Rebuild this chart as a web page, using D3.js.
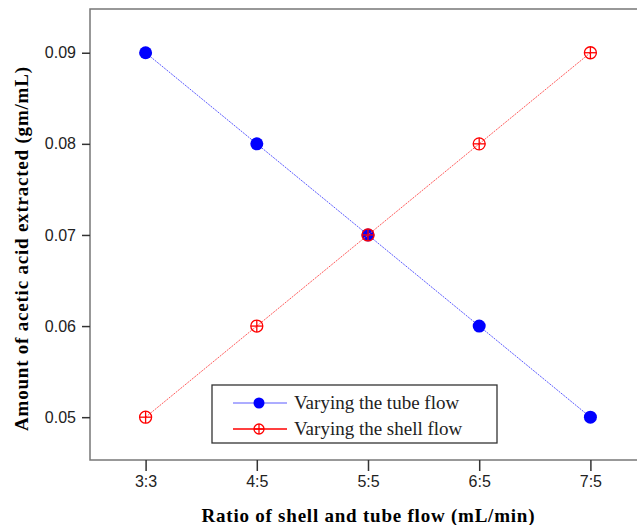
<!DOCTYPE html>
<html>
<head>
<meta charset="utf-8">
<script src="https://cdn.jsdelivr.net/npm/d3@7"></script>
<style>
  body { margin: 0; background: #fff; }
</style>
</head>
<body>
<svg id="chart" width="637" height="525"></svg>
<script>
const svg = d3.select('#chart');

// data
const ratios = ['3:3', '4:5', '5:5', '6:5', '7:5'];
const tubeFlow = [0.09, 0.08, 0.07, 0.06, 0.05];
const shellFlow = [0.05, 0.06, 0.07, 0.08, 0.09];
const yTicks = [0.05, 0.06, 0.07, 0.08, 0.09];

const margin = { top: 9, left: 90 };
const plotRight = 646;   // frame runs past the window edge
const plotBottom = 460;

const x = d3.scalePoint()
  .domain(ratios)
  .range([margin.left, plotRight])
  .padding(0.5);

const y = d3.scaleLinear()
  .domain([0.0453, 0.0948])
  .range([plotBottom, margin.top]);

// frame
svg.append('rect')
  .attr('x', margin.left)
  .attr('y', margin.top)
  .attr('width', plotRight - margin.left)
  .attr('height', plotBottom - margin.top)
  .attr('fill', 'none')
  .attr('stroke', '#777')
  .attr('stroke-width', 1.5);

// axes
const xAxis = svg.append('g')
  .attr('transform', `translate(0,${plotBottom})`)
  .call(d3.axisBottom(x).tickSize(11).tickPadding(5));
const yAxis = svg.append('g')
  .attr('transform', `translate(${margin.left},0)`)
  .call(d3.axisLeft(y).tickValues(yTicks).tickFormat(d3.format('.2f')).tickSize(8).tickPadding(6));

[xAxis, yAxis].forEach(a => {
  a.select('.domain').remove();
  a.selectAll('line').attr('stroke', '#333').attr('stroke-width', 1.5);
  a.selectAll('text')
    .attr('font-family', 'Liberation Sans, Arial, sans-serif')
    .attr('font-size', 16)
    .attr('fill', '#222');
});

// axis titles
svg.append('text')
  .attr('x', 368)
  .attr('y', 522)
  .attr('text-anchor', 'middle')
  .attr('font-family', 'Liberation Serif, Times New Roman, serif')
  .attr('font-weight', 'bold')
  .attr('font-size', 19)
  .attr('textLength', 333)
  .attr('lengthAdjust', 'spacing')
  .text('Ratio of shell and tube flow (mL/min)');

svg.append('text')
  .attr('transform', 'translate(28,249) rotate(-90)')
  .attr('text-anchor', 'middle')
  .attr('font-family', 'Liberation Serif, Times New Roman, serif')
  .attr('font-weight', 'bold')
  .attr('font-size', 19)
  .attr('textLength', 364)
  .attr('lengthAdjust', 'spacing')
  .text('Amount of acetic acid extracted (gm/mL)');

const line = d3.line()
  .x((d, i) => x(ratios[i]))
  .y(d => y(d));

// tube series (blue, filled)
svg.append('path')
  .datum(tubeFlow)
  .attr('d', line)
  .attr('fill', 'none')
  .attr('stroke', '#5a5aff')
  .attr('stroke-width', 1)
  .attr('stroke-dasharray', '2,1');

svg.append('g').selectAll('circle')
  .data(tubeFlow)
  .join('circle')
  .attr('cx', (d, i) => x(ratios[i]))
  .attr('cy', d => y(d))
  .attr('r', 6.5)
  .attr('fill', '#0000ff');

// shell series (red, open circle with cross)
svg.append('path')
  .datum(shellFlow)
  .attr('d', line)
  .attr('fill', 'none')
  .attr('stroke', '#ff5a5a')
  .attr('stroke-width', 1)
  .attr('stroke-dasharray', '2,1');

const crossMarker = (g, cx, cy, r) => {
  g.append('circle')
    .attr('cx', cx).attr('cy', cy).attr('r', r)
    .attr('fill', 'none').attr('stroke', '#ff0000').attr('stroke-width', 1.3);
  g.append('line')
    .attr('x1', cx - r).attr('x2', cx + r).attr('y1', cy).attr('y2', cy)
    .attr('stroke', '#ff0000').attr('stroke-width', 1.3);
  g.append('line')
    .attr('x1', cx).attr('x2', cx).attr('y1', cy - r).attr('y2', cy + r)
    .attr('stroke', '#ff0000').attr('stroke-width', 1.3);
};

const shellG = svg.append('g');
shellFlow.forEach((d, i) => crossMarker(shellG, x(ratios[i]), y(d), 6));

// legend
const legend = svg.append('g');
legend.append('rect')
  .attr('x', 212).attr('y', 385)
  .attr('width', 285).attr('height', 58)
  .attr('fill', '#fff')
  .attr('stroke', '#333')
  .attr('stroke-width', 1.3);

const legendRows = [
  { label: 'Varying the tube flow', color: '#5a5aff', y: 403, type: 'dot' },
  { label: 'Varying the shell flow', color: '#ff0000', y: 429, type: 'cross' }
];

legendRows.forEach(r => {
  legend.append('line')
    .attr('x1', 233).attr('x2', 287)
    .attr('y1', r.y).attr('y2', r.y)
    .attr('stroke', r.color)
    .attr('stroke-width', r.type === 'dot' ? 1 : 1.5);
  if (r.type === 'dot') {
    legend.append('circle')
      .attr('cx', 259).attr('cy', r.y).attr('r', 5.5)
      .attr('fill', '#0000ff');
  } else {
    crossMarker(legend, 259, r.y, 5);
  }
  legend.append('text')
    .attr('x', 294).attr('y', r.y + 6)
    .attr('font-family', 'Liberation Serif, Times New Roman, serif')
    .attr('font-size', 19)
    .attr('fill', '#222')
    .text(r.label);
});
</script>
</body>
</html>
